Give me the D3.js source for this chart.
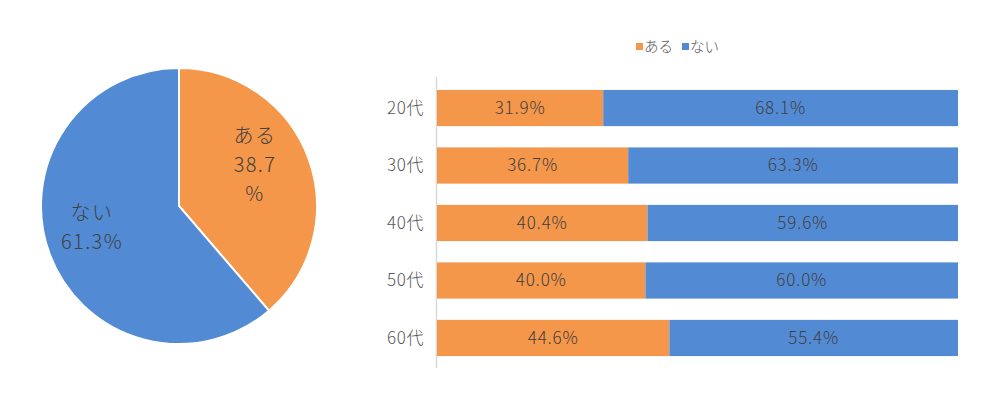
<!DOCTYPE html>
<html lang='ja'>
<head>
  <meta charset='UTF-8'>
  <title>ある / ない</title>
  <style type='text/css'>
    body {
      margin: 0;
      background: #fff;
      font-family: 'Noto Sans CJK JP', 'Noto Sans', sans-serif;
      font-weight: 300;
    }
    .cat-label { fill: #595959; font-size: 17px; letter-spacing: 0.6px; }
    .bar-label { fill: #404040; font-size: 17px; letter-spacing: 0.8px; }
    .pie-label { fill: #404040; font-size: 20px; letter-spacing: 1.4px; }
    .legend-text { fill: #595959; font-size: 14.5px; }
  </style>
  <script type='text/javascript' src='https://d3js.org/d3.v7.min.js'></script>
</head>
<body>
  <script type='text/javascript'>
    // data
    const series = ['ある', 'ない']
    const pieValues = [38.7, 61.3]
    const ages = ['20代', '30代', '40代', '50代', '60代']
    const aruValues = [31.9, 36.7, 40.4, 40.0, 44.6]
    const naiValues = [68.1, 63.3, 59.6, 60.0, 55.4]

    const colors = ['#F5974A', '#528BD4']
    const width = 1000
    const height = 398

    const svg = d3.select('body').append('svg')
      .attr('width', width)
      .attr('height', height)

    // pie
    const pieG = svg.append('g').attr('transform', 'translate(179,206)')
    const radius = 138
    const pie = d3.pie().sort(null).value(d => d)
    const arc = d3.arc().innerRadius(0).outerRadius(radius)

    pieG.selectAll('path')
      .data(pie(pieValues))
      .enter().append('path')
      .attr('d', arc)
      .style('fill', (d, i) => colors[i])
      .style('stroke', '#fff')
      .style('stroke-width', 2)

    const pieLabelLines = [
      [series[0], pieValues[0].toFixed(1), '%'],
      [series[1], pieValues[1].toFixed(1) + '%']
    ]
    const pieLabelPos = [[76, -63], [-87, 14]]
    pieLabelLines.forEach((lines, i) => {
      const t = pieG.append('text')
        .attr('class', 'pie-label')
        .attr('text-anchor', 'middle')
        .attr('x', pieLabelPos[i][0])
        .attr('y', pieLabelPos[i][1])
      lines.forEach((l, j) => {
        t.append('tspan')
          .attr('x', pieLabelPos[i][0])
          .attr('dy', j === 0 ? 0 : 29)
          .text(l)
      })
    })

    // stacked bars
    const x = d3.scaleLinear().domain([0, 100]).range([437, 958])
    const y = d3.scaleBand().domain(ages).range([79, 367]).paddingInner(0.37).paddingOuter(0.19)

    svg.append('line')
      .attr('x1', 436.5).attr('x2', 436.5)
      .attr('y1', 77).attr('y2', 368)
      .style('stroke', '#d9d9d9')
      .style('stroke-width', 1.5)

    const rows = ages.map((a, i) => ({ age: a, vals: [aruValues[i], naiValues[i]] }))

    const row = svg.selectAll('.row')
      .data(rows)
      .enter().append('g')
      .attr('class', 'row')

    row.each(function(d) {
      const g = d3.select(this)
      let start = 0
      d.vals.forEach((v, i) => {
        g.append('rect')
          .attr('x', x(start))
          .attr('y', y(d.age))
          .attr('width', x(start + v) - x(start))
          .attr('height', y.bandwidth())
          .style('fill', colors[i])
        g.append('text')
          .attr('class', 'bar-label')
          .attr('x', (x(start) + x(start + v)) / 2)
          .attr('y', y(d.age) + y.bandwidth() / 2)
          .attr('dy', '.35em')
          .attr('text-anchor', 'middle')
          .text(v.toFixed(1) + '%')
        start += v
      })
      g.append('text')
        .attr('class', 'cat-label')
        .attr('x', 424)
        .attr('y', y(d.age) + y.bandwidth() / 2)
        .attr('dy', '.35em')
        .attr('text-anchor', 'end')
        .text(d.age)
    })

    // legend
    const legendX = [636, 682]
    series.forEach((s, i) => {
      svg.append('rect')
        .attr('x', legendX[i])
        .attr('y', 43)
        .attr('width', 7)
        .attr('height', 7)
        .style('fill', colors[i])
      svg.append('text')
        .attr('class', 'legend-text')
        .attr('x', legendX[i] + 8)
        .attr('y', 47)
        .attr('dy', '.35em')
        .text(s)
    })
  </script>
</body>
</html>
